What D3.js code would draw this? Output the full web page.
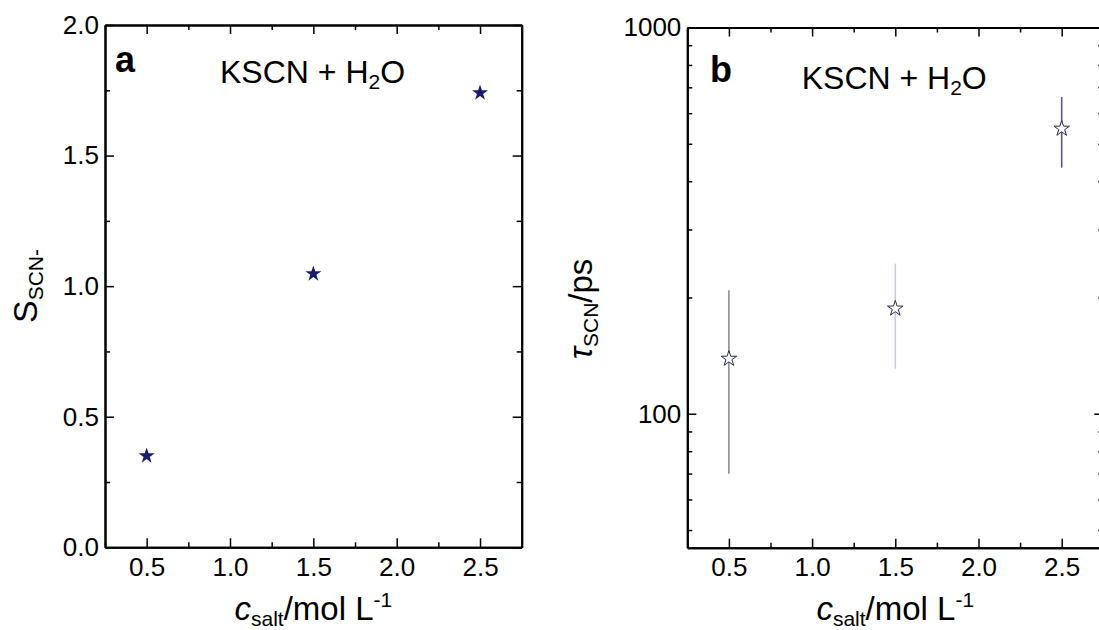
<!DOCTYPE html>
<html>
<head>
<meta charset="utf-8">
<script src="https://cdn.jsdelivr.net/npm/d3@7"></script>
<style>
  body { margin: 0; background: #fff; }
  text { font-family: "Liberation Sans", Arial, sans-serif; fill: #000; }
  .domain { stroke: #000; stroke-width: 2; }
  .tick line { stroke: #000; stroke-width: 1.5; }
</style>
</head>
<body>
<svg id="chart" width="1099" height="630"></svg>
<script>
// data
var conc = [0.5, 1.5, 2.5];
var orderParam = [0.35, 1.047, 1.74];
var tau = [138.8, 187.2, 547];
var tauLow = [69.9, 130.8, 433.6];
var tauHigh = [208.7, 244.7, 661];

var xMajor = [0.5, 1.0, 1.5, 2.0, 2.5];
var xMinor = [0.25, 0.75, 1.25, 1.75, 2.25, 2.75];
var sMajor = [0.0, 0.5, 1.0, 1.5, 2.0];
var sMinor = [0.25, 0.75, 1.25, 1.75];
var tauMajor = [100, 1000];
var tauMinor = [50, 60, 70, 80, 90, 200, 300, 400, 500, 600, 700, 800, 900];

var errColors = ["#8b8ba2", "#cacada", "#5a5a79"];
var navy = "#1a1a6e";

var svg = d3.select("#chart");

function frame(g, x, y, w, h, yMajor, yMinor, yFmt) {
  var big = 9, small = 5;
  g.append("g").attr("transform", "translate(0," + h + ")")
    .call(d3.axisBottom(x).tickValues(xMinor).tickSize(-small).tickSizeOuter(0).tickFormat(""));
  g.append("g").attr("transform", "translate(0," + h + ")")
    .call(d3.axisBottom(x).tickValues(xMajor).tickSize(-big).tickSizeOuter(0).tickPadding(10)
      .tickFormat(d3.format(".1f")))
    .selectAll("text").style("font-size", "26px");
  g.append("g")
    .call(d3.axisTop(x).tickValues(xMinor).tickSize(-small).tickSizeOuter(0).tickFormat(""));
  g.append("g")
    .call(d3.axisTop(x).tickValues(xMajor).tickSize(-big).tickSizeOuter(0).tickFormat(""));

  g.append("g").call(d3.axisLeft(y).tickValues(yMinor).tickSize(-small).tickSizeOuter(0).tickFormat(""));
  g.append("g").call(d3.axisLeft(y).tickValues(yMajor).tickSize(-big).tickSizeOuter(0).tickPadding(6)
      .tickFormat(yFmt))
    .selectAll("text").style("font-size", "26px");
  g.append("g").attr("transform", "translate(" + w + ",0)")
    .call(d3.axisRight(y).tickValues(yMinor).tickSize(-small).tickSizeOuter(0).tickFormat(""));
  g.append("g").attr("transform", "translate(" + w + ",0)")
    .call(d3.axisRight(y).tickValues(yMajor).tickSize(-big).tickSizeOuter(0).tickFormat(""));
  g.selectAll(".tick text").attr("fill", "#1a1a1a").style("font-family", "'Liberation Sans', Arial, sans-serif");
}

function xTitle(g, cx, yy) {
  var t = g.append("text").attr("x", cx).attr("y", yy).attr("text-anchor", "middle")
    .style("font-size", "33px");
  t.append("tspan").style("font-style", "italic").text("c");
  t.append("tspan").attr("dy", 6).style("font-size", "21px").text("salt");
  t.append("tspan").attr("dy", -6).text("/mol L");
  t.append("tspan").attr("dy", -13).style("font-size", "21px").text("-1");
}

function heading(g, letter, lx, ly, tx, ty) {
  g.append("text").attr("x", lx).attr("y", ly).style("font-size", "36px").style("font-weight", "bold").text(letter);
  var t = g.append("text").attr("x", tx).attr("y", ty).style("font-size", "32px");
  t.append("tspan").text("KSCN + H");
  t.append("tspan").attr("dy", 6).style("font-size", "21px").text("2");
  t.append("tspan").attr("dy", -6).text("O");
}

// ---- panel a
var wA = 416.7, hA = 522.3;
var gA = svg.append("g").attr("transform", "translate(105,25)");
var xA = d3.scaleLinear().domain([0.25, 2.75]).range([0, wA]);
var yA = d3.scaleLinear().domain([0, 2]).range([hA, 0]);
frame(gA, xA, yA, wA, hA, sMajor, sMinor, d3.format(".1f"));

gA.selectAll("path.pt").data(conc).enter().append("path")
  .attr("class", "pt")
  .attr("d", d3.symbol().type(d3.symbolStar).size(80))
  .attr("transform", function(d, i) { return "translate(" + xA(d) + "," + yA(orderParam[i]) + ")"; })
  .attr("fill", navy);

heading(gA, "a", 10, 47, 115, 58);
xTitle(svg, 105 + wA / 2, 620);

var yl = svg.append("text").attr("transform", "translate(37,286) rotate(-90)")
  .attr("text-anchor", "middle").style("font-size", "34px");
yl.append("tspan").text("S");
yl.append("tspan").attr("dy", 6).style("font-size", "21px").text("SCN-");

// ---- panel b
var wB = 416, hB = 520.2;
var gB = svg.append("g").attr("transform", "translate(687.3,27.5)");
var xB = d3.scaleLinear().domain([0.25, 2.75]).range([0, wB]);
var yB = d3.scaleLog().domain([45, 1000]).range([hB, 0]);
frame(gB, xB, yB, wB, hB, tauMajor, tauMinor, d3.format("d"));

gB.selectAll("line.err").data(conc).enter().append("line")
  .attr("class", "err")
  .attr("x1", function(d) { return xB(d); })
  .attr("x2", function(d) { return xB(d); })
  .attr("y1", function(d, i) { return yB(tauLow[i]); })
  .attr("y2", function(d, i) { return yB(tauHigh[i]); })
  .attr("stroke", function(d, i) { return errColors[i]; })
  .attr("stroke-width", 1.6);

gB.selectAll("path.pt").data(conc).enter().append("path")
  .attr("class", "pt")
  .attr("d", d3.symbol().type(d3.symbolStar).size(75))
  .attr("transform", function(d, i) { return "translate(" + xB(d) + "," + yB(tau[i]) + ")"; })
  .attr("fill", "#fff").attr("stroke", "#2a2a55").attr("stroke-width", 1);

heading(gB, "b", 22.7, 54, 114.4, 61.5);
xTitle(svg, 687.3 + wB / 2, 620);

var yl2 = svg.append("text").attr("transform", "translate(592,309) rotate(-90)")
  .attr("text-anchor", "middle").style("font-size", "33px");
yl2.append("tspan").style("font-style", "italic").text("τ");
yl2.append("tspan").attr("dy", 6).style("font-size", "21px").text("SCN");
yl2.append("tspan").attr("dy", -6).text("/ps");
</script>
</body>
</html>
